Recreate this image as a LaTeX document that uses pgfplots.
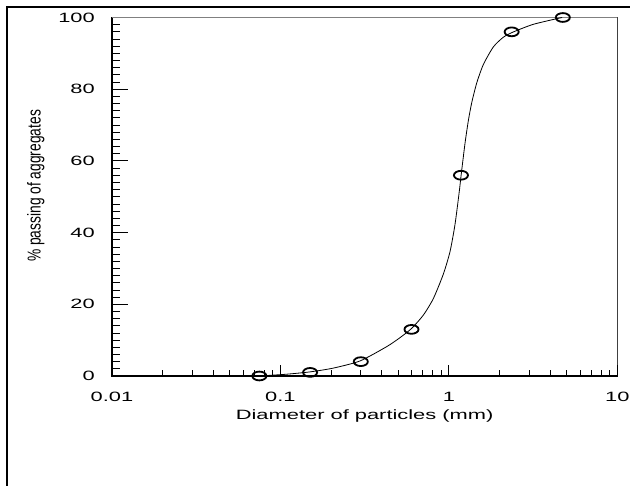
\documentclass[border=0pt]{standalone}
\usepackage{graphicx}
\usepackage{pgfplots}
\pgfplotsset{compat=1.18}
\usepackage{fontspec}
\setmainfont{Liberation Sans}[FakeStretch=1.62]
\newfontfamily\ylabfont{Liberation Sans}
\begin{document}
\begin{tikzpicture}[x=1pt,y=1pt]
\path[use as bounding box] (0,0) rectangle (630,486);
\begin{scope}
\clip (0,0) rectangle (630,486);
\draw[line width=2pt] (7,479) rectangle (700,-50);
\end{scope}
\begin{axis}[
  at={(112pt,110pt)}, anchor=south west,
  scale only axis, width=505.3pt, height=358.5pt,
  xmode=log, xmin=0.01, xmax=10, ymin=0, ymax=100,
  tick align=inside, xtick pos=bottom, ytick pos=left,
  tick style={black, line width=0.8pt},
  tick label style={font=\fontsize{13.5}{16}\selectfont},
  /pgf/number format/assume math mode=true,
  axis line style={black, line width=1.3pt},
  xtick=\empty,
  ytick={0,20,40,60,80,100},
  minor y tick num=9,
  major tick length=16pt, minor tick length=7.7pt,
  yticklabel style={anchor=east, inner sep=0pt, xshift=-17pt},
  xlabel={Diameter of particles (mm)},
  xlabel style={at={(axis description cs:0.5,-0.1227)}, anchor=base, inner sep=0pt, font=\fontsize{13.5}{16}\selectfont},
  ylabel={\scalebox{1}[1.35]{\ylabfont\fontsize{13.8}{16}\selectfont \% passing of aggregates}},
  ylabel style={at={(axis description cs:-0.151,0.53)}, anchor=center, inner sep=0pt},
  clip=false,
]
\draw[gray, line width=1.4pt] (rel axis cs:0,1) -- (rel axis cs:1,1);
\draw[black!75, line width=1.4pt] (rel axis cs:1,0) -- (rel axis cs:1,1);
\addplot[black, line width=0.8pt, smooth, tension=0.4, mark=none] coordinates {
(0.075,0) (0.109,0.5) (0.15,1.15) (0.206,2.2) (0.297,4.2) (0.428,8.2)
(0.513,10.7) (0.602,13.3) (0.706,17.0) (0.809,21.6) (0.927,28.4) (1.016,34.7)
(1.088,42.3) (1.154,51.6) (1.181,55.8) (1.248,65.0) (1.306,71.3) (1.368,76.3)
(1.465,81.8) (1.603,86.9) (1.838,91.8) (2.107,94.5) (2.396,95.9) (3.176,98.1)
(4.70,100)
};
\addplot[only marks, mark=o, mark size=4.4pt, mark options={xscale=1.6, line width=1.8pt, black}] coordinates {
(0.075,0) (0.15,1) (0.3,4) (0.6,13) (1.18,56) (2.36,96) (4.75,100)
};
\end{axis}
\begin{axis}[
  at={(112pt,110pt)}, anchor=south west,
  scale only axis, width=505.3pt, height=358.5pt,
  xmode=log, xmin=0.01, xmax=10, ymin=0, ymax=100,
  tick align=inside, xtick pos=bottom, ytick pos=left,
  tick style={black, line width=0.8pt},
  tick label style={font=\fontsize{13.5}{16}\selectfont},
  /pgf/number format/assume math mode=true,
  axis line style={draw=none},
  ytick=\empty,
  xtick={0.01,0.1,1,10},
  xticklabels={0.01,0.1,1,10},
  major tick length=11pt, minor tick length=5.5pt,
  xticklabel style={anchor=north, inner sep=0pt, yshift=-15.7pt},
]
\end{axis}
\end{tikzpicture}
\end{document}
